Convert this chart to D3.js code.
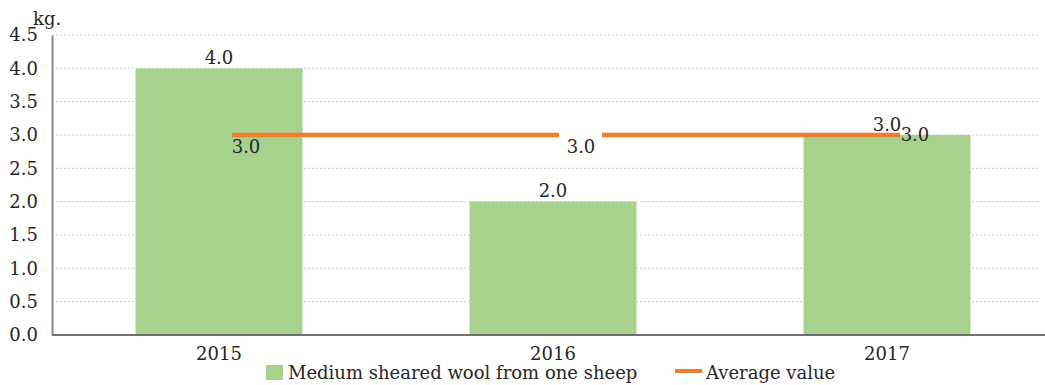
<!DOCTYPE html>
<html>
<head>
<meta charset="utf-8">
<script src="https://cdn.jsdelivr.net/npm/d3@7"></script>
<style>
  html, body { margin: 0; padding: 0; background: #fff; }
  svg text { font-family: "DejaVu Serif", serif; fill: #262626; }
</style>
</head>
<body>
<svg id="chart" width="1045" height="385"></svg>
<script>
// Wool yield per sheep by year, with the period average
const years = ["2015", "2016", "2017"];
const woolValues = [4.0, 2.0, 3.0];
const averageValues = [3.0, 3.0, 3.0];
const yTicks = [0, 0.5, 1.0, 1.5, 2.0, 2.5, 3.0, 3.5, 4.0, 4.5];
const legendLabels = ["Medium sheared wool from one sheep", "Average value"];

const W = 1045, H = 385;
const margin = { left: 52, right: -9, top: 35, bottom: 50 };
const svg = d3.select("#chart");
const serif = '"DejaVu Serif", serif';

const x = d3.scaleBand()
  .domain(years)
  .range([margin.left, W - margin.right])
  .paddingInner(0.5)
  .paddingOuter(0.25);

const y = d3.scaleLinear()
  .domain([0, 4.5])
  .range([H - margin.bottom, margin.top]);

const fontSize = 18;
const green = "#a9d18e";
const orange = "#ed7d31";

// Dotted horizontal gridlines
svg.append("g")
  .selectAll("line")
  .data(yTicks.filter(t => t > 0))
  .join("line")
  .attr("x1", margin.left)
  .attr("x2", 1040)
  .attr("y1", d => y(d))
  .attr("y2", d => y(d))
  .attr("stroke", "#c9c9c9")
  .attr("stroke-width", 1)
  .attr("stroke-dasharray", "2,2");

// Bars
svg.append("g")
  .selectAll("rect")
  .data(years.map((c, i) => ({ c, v: woolValues[i] })))
  .join("rect")
  .attr("x", d => x(d.c))
  .attr("width", x.bandwidth())
  .attr("y", d => y(d.v))
  .attr("height", d => y(0) - y(d.v))
  .attr("fill", green);

// Y axis
const yAxis = d3.axisLeft(y)
  .tickValues(yTicks)
  .tickFormat(d3.format(".1f"))
  .tickSize(0)
  .tickPadding(14);
const gy = svg.append("g")
  .attr("transform", `translate(${margin.left},0)`)
  .call(yAxis);
gy.select(".domain").attr("stroke", "#8c8c8c").attr("stroke-width", 2);
gy.selectAll("text")
  .style("font-family", serif)
  .attr("font-size", fontSize)
  .attr("fill", "#262626");

// X axis
const xAxis = d3.axisBottom(x).tickSize(0).tickPadding(12);
const gx = svg.append("g")
  .attr("transform", `translate(0,${y(0)})`)
  .call(xAxis);
gx.select(".domain").attr("stroke", "#6f6f6f").attr("stroke-width", 2)
  .attr("d", `M${margin.left},0H${W}`);
gx.selectAll("text")
  .style("font-family", serif)
  .attr("font-size", fontSize)
  .attr("fill", "#262626");

// Unit label
svg.append("text")
  .attr("x", 33)
  .attr("y", 25)
  .attr("font-size", fontSize)
  .text("kg.");

// Bar value labels
const barLabelShift = [{ dx: 0, dy: -4 }, { dx: 0, dy: -5 }, { dx: 28, dy: 6 }];
svg.append("g")
  .selectAll("text")
  .data(years.map((c, i) => ({ c, v: woolValues[i], s: barLabelShift[i] })))
  .join("text")
  .attr("x", d => x(d.c) + x.bandwidth() / 2 + d.s.dx)
  .attr("y", d => y(d.v) + d.s.dy)
  .attr("text-anchor", "middle")
  .attr("font-size", fontSize)
  .text(d => d3.format(".1f")(d.v));

// Average line
const lineShift = 13;
const line = d3.line()
  .x(d => x(d.c) + x.bandwidth() / 2 + lineShift)
  .y(d => y(d.v));
const avgData = years.map((c, i) => ({ c, v: averageValues[i] }));
svg.append("path")
  .datum(avgData)
  .attr("d", line)
  .attr("fill", "none")
  .attr("stroke", orange)
  .attr("stroke-width", 4.5);

// Average value labels (middle one sits on a white box)
const avgLabelShift = [{ dx: 27, dy: 18, box: false }, { dx: 28, dy: 18, box: true }, { dx: 0, dy: -4, box: false }];
const avgLabels = svg.append("g")
  .selectAll("g")
  .data(avgData.map((d, i) => ({ ...d, s: avgLabelShift[i] })))
  .join("g")
  .attr("transform", d => `translate(${x(d.c) + x.bandwidth() / 2 + d.s.dx},${y(d.v) + d.s.dy})`);
avgLabels.filter(d => d.s.box)
  .append("rect")
  .attr("x", -22)
  .attr("y", -21)
  .attr("width", 43)
  .attr("height", 26)
  .attr("fill", "#fff");
avgLabels.append("text")
  .attr("text-anchor", "middle")
  .attr("font-size", fontSize)
  .text(d => d3.format(".1f")(d.v));

// Legend
const legend = svg.append("g").attr("transform", `translate(0,372)`);
legend.append("rect")
  .attr("x", 266).attr("y", -7)
  .attr("width", 17).attr("height", 15)
  .attr("fill", green);
legend.append("text")
  .attr("x", 288).attr("y", 7)
  .attr("font-size", fontSize)
  .text(legendLabels[0]);
legend.append("line")
  .attr("x1", 675).attr("x2", 702)
  .attr("y1", -1).attr("y2", -1)
  .attr("stroke", orange)
  .attr("stroke-width", 4);
legend.append("text")
  .attr("x", 706).attr("y", 7)
  .attr("font-size", fontSize)
  .text(legendLabels[1]);
</script>
</body>
</html>
